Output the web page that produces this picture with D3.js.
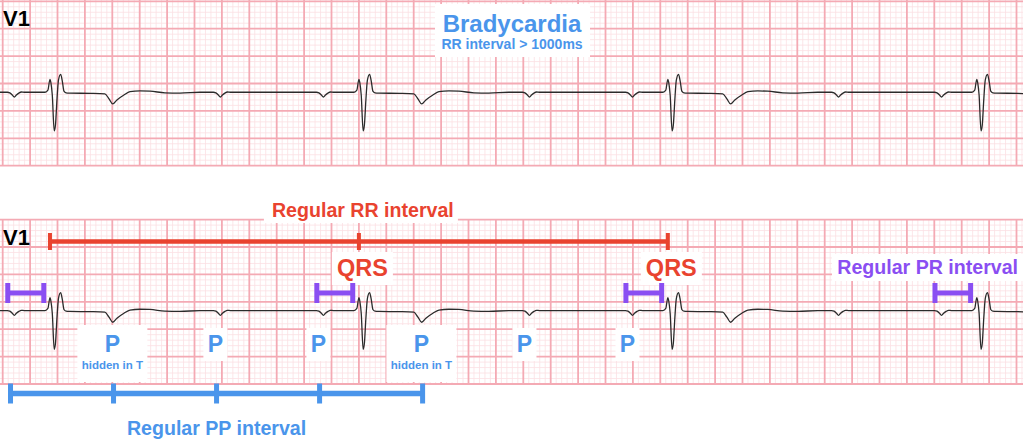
<!DOCTYPE html>
<html>
<head>
<meta charset="utf-8">
<script src="https://cdn.jsdelivr.net/npm/d3@7/dist/d3.min.js"></script>
<style>
  html, body { margin: 0; padding: 0; background: #fff; }
  svg { display: block; }
  text { font-family: "Liberation Sans", Arial, Helvetica, sans-serif; font-weight: bold; }
</style>
</head>
<body>
<svg id="chart" width="1023" height="448"></svg>
<script>
// Times in seconds (25 mm/s), amplitudes in mV (10 mm/mV)
const leadLabel = "V1";
const titleText = "Bradycardia";
const subtitleText = "RR interval > 1000ms";

// R-peak (first r deflection) times of each QRS complex
const rTimes = [0.345, 2.600, 4.855, 7.110];
// P-wave (trough) times
const pTimes = [0.085, 0.837, 1.589, 2.341, 3.093, 3.845, 4.597, 5.349, 6.101, 6.853];
// P waves buried in the T wave (their shape is already part of the T)
const pHidden = [false, true, false, false, true, false, false, true, false, false];

// QRS-T complex template: [time offset from r peak (s), mV]
const qrsT = [
  [-0.036, 0], [-0.015, 0.04], [0.000, 0.237], [0.007, 0.17], [0.017, -0.05],
  [0.031, -0.706], [0.040, -0.60], [0.051, -0.14], [0.062, 0.22], [0.078, 0.328],
  [0.091, 0.19], [0.102, 0.02], [0.117, -0.01], [0.146, -0.015], [0.300, -0.02],
  [0.401, -0.03], [0.431, -0.12], [0.458, -0.213], [0.489, -0.14], [0.540, -0.05],
  [0.584, 0.01], [0.657, 0.024], [0.730, 0.02], [0.839, -0.01], [0.949, -0.015],
  [1.095, 0]
];
// P wave template: [time offset from trough (s), mV]
const pWave = [
  [-0.051, 0], [-0.033, -0.01], [-0.015, -0.05], [0.000, -0.086],
  [0.015, -0.05], [0.033, -0.015], [0.051, 0.005], [0.073, 0]
];

// Annotation selections (indices into the arrays above)
const rrLabel = "Regular RR interval";
const rrBeats = [0, 1, 2];
const qrsLabel = "QRS";
const qrsLabelBeats = [1, 2];
const prLabel = "Regular PR interval";
const prPairs = [[0, 0], [3, 1], [6, 2], [9, 3]];   // [P index, R index]
const pLabel = "P";
const hiddenLabel = "hidden in T";
const pLabelIdx = [1, 2, 3, 4, 5, 6];
const ppLabel = "Regular PP interval";
const ppIdx = [0, 1, 2, 3, 4];

// ---------------- LAYOUT ----------------
const W = 1023, H = 448;
const stripTops = [1.3, 219.6];
const stripH = 164.4;
const colors = {
  major: "#f4aab4", minor: "#fbdfe3", trace: "#2b2b2b",
  blue: "#4a95eb", red: "#e9432f", purple: "#8a4ef2"
};

const x = d3.scaleLinear().domain([0, 7.45]).range([2.7, 2.7 + 7.45 * 137]);
const y = d3.scaleLinear().domain([-1.34, 1.66]).range([stripH, 0]);

const svg = d3.select("#chart");

function tplAt(tpl, dt) {
  if (dt <= tpl[0][0] || dt >= tpl[tpl.length - 1][0]) return 0;
  for (let i = 1; i < tpl.length; i++) {
    if (dt <= tpl[i][0]) {
      const [t0, v0] = tpl[i - 1], [t1, v1] = tpl[i];
      return v0 + (v1 - v0) * (dt - t0) / (t1 - t0);
    }
  }
  return 0;
}

// build trace knots from the templates placed at each beat
const knotSet = new Set([-0.03, 7.47]);
rTimes.forEach(r => qrsT.forEach(d => knotSet.add(+(r + d[0]).toFixed(4))));
pTimes.forEach((p, i) => { if (!pHidden[i]) pWave.forEach(d => knotSet.add(+(p + d[0]).toFixed(4))); });
const knots = Array.from(knotSet).sort((a, b) => a - b);
const trace = knots.map(t => {
  let v = 0;
  rTimes.forEach(r => { v += tplAt(qrsT, t - r); });
  pTimes.forEach((p, i) => { if (!pHidden[i]) v += tplAt(pWave, t - p); });
  return [t, v];
});

const line = d3.line().x(d => x(d[0])).y(d => y(d[1])).curve(d3.curveMonotoneX);

stripTops.forEach((top, si) => {
  const g = svg.append("g").attr("transform", `translate(0,${top})`);
  const yTop = si === 0 ? -top : 0;
  const nV = Math.floor(7.45 / 0.04);
  const vIdx = d3.range(0, nV + 1);
  g.selectAll(".vmin").data(vIdx.filter(k => k % 5 !== 0)).join("line")
    .attr("x1", k => x(k * 0.04)).attr("x2", k => x(k * 0.04))
    .attr("y1", yTop).attr("y2", stripH)
    .attr("stroke", colors.minor).attr("stroke-width", 0.8);
  const hIdx = d3.range(0, 31);
  g.selectAll(".hmin").data(hIdx.filter(k => k % 5 !== 0)).join("line")
    .attr("x1", 0).attr("x2", W)
    .attr("y1", k => y(-1.34 + k * 0.1)).attr("y2", k => y(-1.34 + k * 0.1))
    .attr("stroke", colors.minor).attr("stroke-width", 0.8);
  g.selectAll(".vmaj").data(vIdx.filter(k => k % 5 === 0)).join("line")
    .attr("x1", k => x(k * 0.04)).attr("x2", k => x(k * 0.04))
    .attr("y1", yTop).attr("y2", stripH)
    .attr("stroke", colors.major).attr("stroke-width", 1.8);
  g.selectAll(".hmaj").data(hIdx.filter(k => k % 5 === 0)).join("line")
    .attr("x1", 0).attr("x2", W)
    .attr("y1", k => y(-1.34 + k * 0.1)).attr("y2", k => y(-1.34 + k * 0.1))
    .attr("stroke", colors.major).attr("stroke-width", 1.8);
});

// ---------- white label boxes ----------
function box(x0, y0, w, h) {
  svg.append("rect").attr("x", x0).attr("y", y0).attr("width", w).attr("height", h).attr("fill", "#fff");
}
box(435, 4, 155, 53);                                  // title
const rrMid = (x(rTimes[rrBeats[0]]) + x(rTimes[rrBeats[rrBeats.length - 1]])) / 2;
box(rrMid - 95, 198, 194, 25);                         // RR label
qrsLabelBeats.forEach(i => box(x(rTimes[i]) + 3.5 - 30.5, 252, 61, 33));
box(832, 254, 200, 27);                                // PR label
pLabelIdx.forEach(i => {
  const cx = x(pTimes[i]) - 5;
  if (pHidden[i]) box(cx - 35, 325, 70, 57);
  else box(cx - 12, 328, 24, 33);
});

// ---------- ECG trace ----------
stripTops.forEach(top => {
  svg.append("path").datum(trace)
    .attr("transform", `translate(0,${top})`)
    .attr("d", line).attr("fill", "none")
    .attr("stroke", colors.trace).attr("stroke-width", 1.3)
    .attr("stroke-linejoin", "round");
});

// ---------- text ----------
stripTops.forEach((top, si) => {
  svg.append("text").attr("x", 3).attr("y", si === 0 ? 26 : 245)
    .attr("font-size", 22).attr("fill", "#000").text(leadLabel);
});
svg.append("text").attr("x", 512).attr("y", 32).attr("text-anchor", "middle")
  .attr("font-size", 24).attr("fill", colors.blue).text(titleText);
svg.append("text").attr("x", 512).attr("y", 49).attr("text-anchor", "middle")
  .attr("font-size", 14).attr("fill", colors.blue).text(subtitleText);

// ---------- bracket helper ----------
function bracket(xs, yc, thick, tickW, tickH, color) {
  const g = svg.append("g");
  g.append("rect").attr("x", xs[0]).attr("y", yc - thick / 2)
    .attr("width", xs[xs.length - 1] - xs[0]).attr("height", thick).attr("fill", color);
  g.selectAll("rect.tick").data(xs).join("rect").attr("class", "tick")
    .attr("x", d => d - tickW / 2).attr("y", yc - tickH / 2)
    .attr("width", tickW).attr("height", tickH).attr("fill", color);
}

// RR interval
bracket(rrBeats.map(i => x(rTimes[i])), 241.5, 4.5, 4, 17, colors.red);
svg.append("text").attr("x", rrMid + 4).attr("y", 217).attr("text-anchor", "middle")
  .attr("font-size", 19.6).attr("fill", colors.red).text(rrLabel);
qrsLabelBeats.forEach(i => {
  svg.append("text").attr("x", x(rTimes[i]) + 3.5).attr("y", 276).attr("text-anchor", "middle")
    .attr("font-size", 23.5).attr("fill", colors.red).text(qrsLabel);
});

// PR intervals
prPairs.forEach(([pi, ri]) => {
  bracket([x(pTimes[pi] - 0.048), x(rTimes[ri] - 0.045)], 293, 5, 5, 20, colors.purple);
});
svg.append("text").attr("x", 1018).attr("y", 274).attr("text-anchor", "end")
  .attr("font-size", 19.6).attr("fill", colors.purple).text(prLabel);

// P labels
pLabelIdx.forEach(i => {
  const cx = x(pTimes[i]) - 5;
  svg.append("text").attr("x", cx).attr("y", 351.5).attr("text-anchor", "middle")
    .attr("font-size", 23).attr("fill", colors.blue).text(pLabel);
  if (pHidden[i]) {
    svg.append("text").attr("x", cx).attr("y", 369).attr("text-anchor", "middle")
      .attr("font-size", 11.5).attr("fill", colors.blue).text(hiddenLabel);
  }
});

// PP interval
const ppXs = ppIdx.map(i => x(pTimes[i] - 0.028));
bracket(ppXs, 393.5, 5.5, 5, 20, colors.blue);
svg.append("text").attr("x", (ppXs[0] + ppXs[ppXs.length - 1]) / 2).attr("y", 435)
  .attr("text-anchor", "middle").attr("font-size", 19.6).attr("fill", colors.blue).text(ppLabel);
</script>
</body>
</html>
